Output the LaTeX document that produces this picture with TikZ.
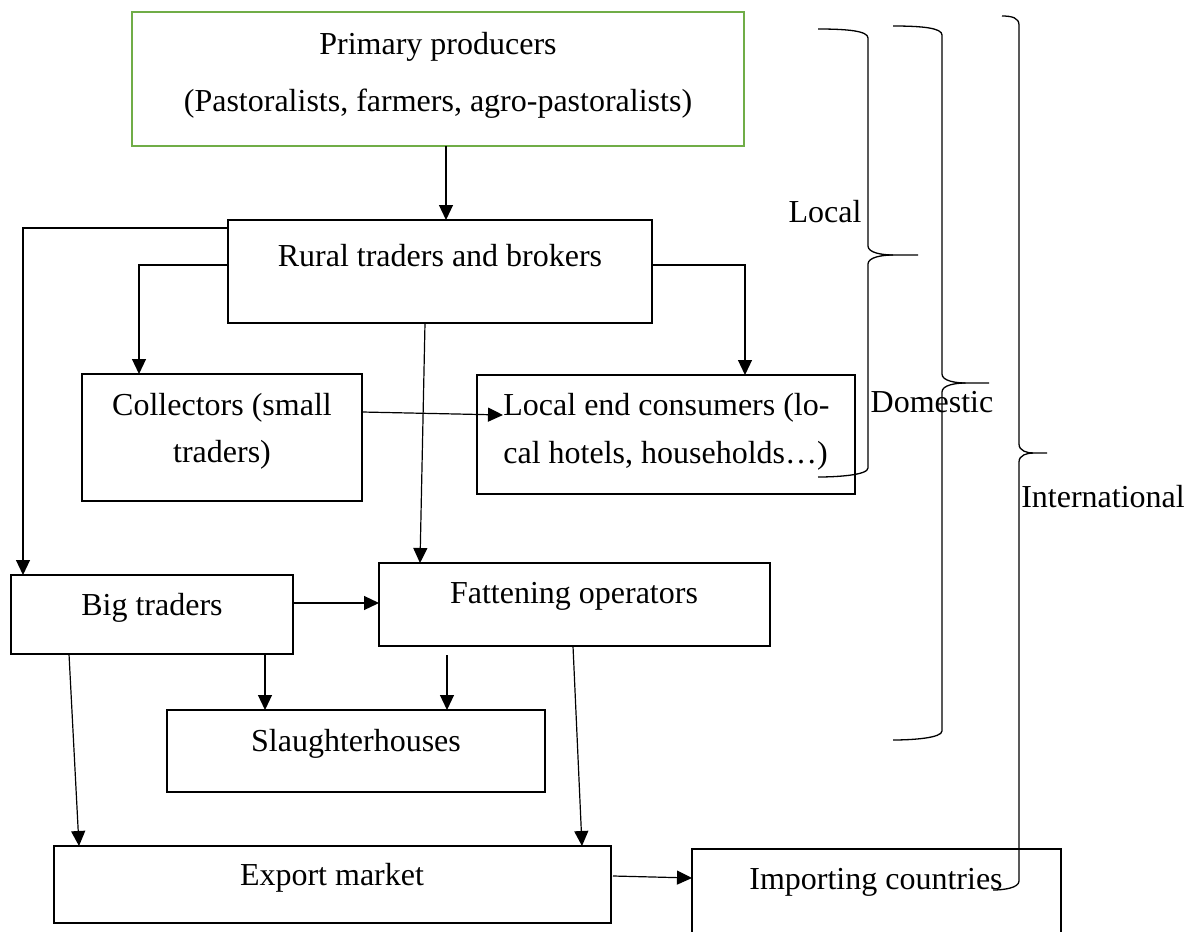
\documentclass[tikz,border=0pt]{standalone}
\usepackage{fontspec}
\setmainfont{Liberation Serif}
\usetikzlibrary{calc,arrows.meta}
\definecolor{boxgreen}{RGB}{112,173,71}
% a curly brace opening to the left, tip pointing right
% #1 top end x, #2 top end y, #3 spine x, #4 tip y, #5 tip x, #6 bottom end x, #7 bottom end y
\newcommand\lcbrace[7]{%
  \draw[bracestyle] (#1,#2) .. controls ($(#1,#2)!0.6!(#3,#2)$) and (#3,#2+2) .. (#3,#2+9)
    -- (#3,#4-9) .. controls (#3,#4-2) and ($(#3,#4)!0.3!(#5,#4)$) .. ($(#3,#4)!0.5!(#5,#4)$) -- (#5,#4);
  \draw[bracestyle] ($(#3,#4)!0.5!(#5,#4)$) .. controls ($(#3,#4)!0.3!(#5,#4)$) and (#3,#4+2) .. (#3,#4+9)
    -- (#3,#7-9) .. controls (#3,#7-2) and ($(#6,#7)!0.4!(#3,#7)$) .. (#6,#7);}
\begin{document}
\begin{tikzpicture}[x=0.5pt,y=-0.5pt,
  txt/.style={font=\fontsize{16}{19}\selectfont, inner sep=0pt, anchor=base},
  box/.style={draw=black, line width=1.4pt, rectangle, inner sep=0pt, outer sep=0pt},
  greenbox/.style={draw=boxgreen, line width=1.3pt, rectangle, inner sep=0pt, outer sep=0pt},
  arr/.style={draw=black, line width=0.6pt, -{Triangle[length=7.5pt,width=7pt]}},
  bracestyle/.style={draw=black, line width=0.65pt}]
\useasboundingbox (0,0) rectangle (1191,932);
\clip (0,0) rectangle (1191,932);
\fill[white] (0,0) rectangle (1191,932);

% boxes
\node[greenbox, minimum width=306pt, minimum height=67pt] (prim) at (438,79) {};
\node[box, minimum width=212pt, minimum height=51.5pt] (rural) at (440,271.5) {};
\node[box, minimum width=140pt, minimum height=63.5pt] (coll) at (222,437.5) {};
\node[box, minimum width=189pt, minimum height=59.5pt] (lec) at (666,434.5) {};
\node[box, minimum width=141pt, minimum height=39.5pt] (big) at (152,614.5) {};
\node[box, minimum width=195.5pt, minimum height=41.5pt] (fat) at (574.5,604.5) {};
\node[box, minimum width=189pt, minimum height=41pt] (sla) at (356,751) {};
\node[box, minimum width=278.5pt, minimum height=38.5pt] (exp) at (332.5,884.5) {};
\node[box, minimum width=184.5pt, minimum height=48pt] (imp) at (876.5,897) {};

% box texts
\node[txt] (prim-a) at (438,54) {Primary producers};
\node[txt] (prim-b) at (438,111) {(Pastoralists, farmers, agro-pastoralists)};
\node[txt] (rural-t) at (440,266) {Rural traders and brokers};
\node[txt] (coll-a) at (222,415) {Collectors (small};
\node[txt] (coll-b) at (222,462) {traders)};
\node[txt, anchor=base west] (lec-a) at (503,415) {Local end consumers (lo-};
\node[txt, anchor=base west] (lec-b) at (503,463) {cal hotels, households…)};
\node[txt] (big-t) at (152,615) {Big traders};
\node[txt] (fat-t) at (574,603) {Fattening operators};
\node[txt] (sla-t) at (356,751) {Slaughterhouses};
\node[txt] (exp-t) at (332,885) {Export market};
\node[txt] (imp-t) at (876,889) {Importing countries};

% flows
\draw[arr] ($(prim.south west)+(314,0)$) -- ($(rural.north west)+(218,0)$);
\draw[arr] ($(rural.north west)+(0,8)$) -| ($(big.north west)+(12,0)$);
\draw[arr] ($(rural.north west)+(0,45)$) -| ($(coll.north west)+(57,0)$);
\draw[arr] ($(rural.north east)+(0,45)$) -| ($(lec.north west)+(268,0)$);
\draw[arr] ($(rural.south west)+(197,0)$) -- ($(fat.north west)+(41,0)$);
\draw[arr] ($(coll.north east)+(0,38)$) -- ($(lec.north west)+(26,40)$);
\draw[arr] ($(big.north east)+(0,28)$) -- ($(fat.north west)+(0,40)$);
\draw[arr] ($(big.south west)+(254,0)$) -- ($(sla.north west)+(98,0)$);
\draw[arr] ($(fat.south west)+(68,9)$) -- ($(sla.north west)+(280,0)$);
\draw[arr] ($(big.south west)+(58,0)$) -- ($(exp.north west)+(25,0)$);
\draw[arr] ($(fat.south west)+(194,0)$) -- ($(exp.north west)+(528,0)$);
\draw[arr] ($(exp.north east)+(2,30)$) -- ($(imp.north west)+(0,29)$);

% scope braces
\lcbrace{818}{29}{868}{255}{918}{818}{477}
\lcbrace{893}{26}{942}{383}{989}{893}{740}
\lcbrace{1002}{16}{1019}{453}{1047}{993}{890}

\node[txt] (local) at (825,222) {Local};
\node[txt] (domestic) at (932,412) {Domestic};
\node[txt] (intl) at (1103,507) {International};
\end{tikzpicture}
\end{document}
